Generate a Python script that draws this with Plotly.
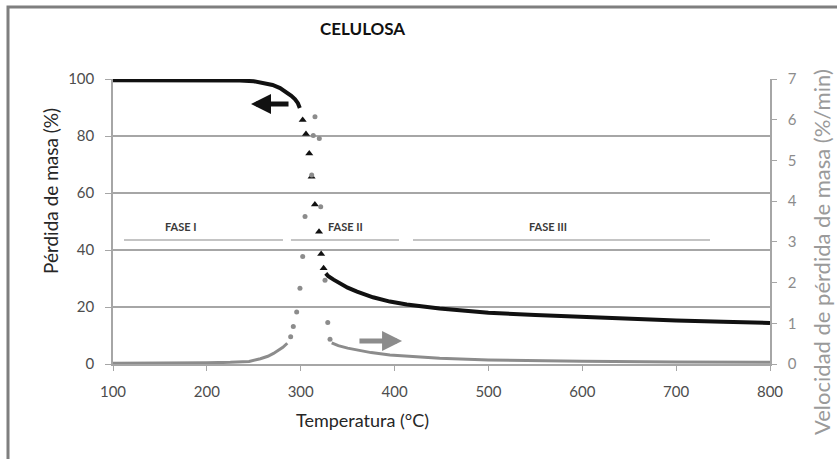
import plotly.graph_objects as go

# Curva TG (pérdida de masa, %) - tramos continuos
tg_temp_inicio = [100, 150, 200, 235, 250, 260, 270, 278, 285, 290, 294, 297, 299]
tg_masa_inicio = [99.6, 99.6, 99.6, 99.5, 99.2, 98.7, 97.9, 96.8, 95.3, 94.1, 92.9, 91.5, 89.8]
tg_temp_final = [326.7, 329.4, 335, 342, 350, 360, 377, 395, 413, 448, 500, 550, 600, 650, 700, 750, 800]
tg_masa_final = [31.8, 30.8, 29.6, 28.3, 26.8, 25.4, 23.4, 21.9, 20.9, 19.5, 18.0, 17.2, 16.5, 15.9, 15.3, 14.8, 14.4]

# Curva TG - puntos discretos en la zona de descomposición
tg_temp_puntos = [302.1, 305.6, 309.1, 311.6, 315.1, 319.5, 321.8, 324.4]
tg_masa_puntos = [85.6, 80.7, 73.9, 65.7, 56.0, 46.4, 38.6, 33.6]

# Curva DTG (velocidad de pérdida de masa, %/min)
dtg_temp_inicio = [100, 150, 200, 225, 235, 240, 245, 257, 265, 271, 276, 281, 285.7]
dtg_vel_inicio = [0.02, 0.02, 0.03, 0.04, 0.05, 0.04, 0.06, 0.13, 0.19, 0.26, 0.33, 0.41, 0.51]
dtg_temp_puntos = [289.3, 292.1, 295.7, 299.2, 302.1, 304.6, 311.7, 313.4, 315.2, 319.8, 321.3, 325.9, 328.8, 331.2]
dtg_vel_puntos = [0.67, 0.92, 1.28, 1.86, 2.64, 3.62, 4.64, 5.61, 6.07, 5.54, 3.86, 2.06, 1.02, 0.61]
dtg_temp_final = [333, 340, 350, 360, 375, 395, 420, 448, 500, 550, 600, 700, 800]
dtg_vel_final = [0.52, 0.45, 0.39, 0.34, 0.28, 0.22, 0.18, 0.14, 0.10, 0.08, 0.07, 0.05, 0.04]

# Fases de la descomposición
fase_nombres = ["FASE I", "FASE II", "FASE III"]
fase_inicio = [111.7, 289.6, 419.6]
fase_fin = [281.1, 404.7, 736.1]
fase_etiqueta_x = [172.5, 348, 563]
fase_linea_y = 43.5
fase_etiqueta_y = 48.3

x_ticks = [100, 200, 300, 400, 500, 600, 700, 800]
y1_ticks = [0, 20, 40, 60, 80, 100]
y2_ticks = [0, 1, 2, 3, 4, 5, 6, 7]

NEGRO = "#111111"
GRIS = "#8c8c8c"
GRIS_EJE = "#a6a6a6"
FUENTE = "Lato"

# Zona de trazado en píxeles: [113, 770] x [79, 364]
L, R, T, B = 113, 770, 79, 364
W, H = 837, 459


def px(xp):
    return (xp - L) / (R - L)


def py(yp):
    return (B - yp) / (B - T)


fig = go.Figure()

# Líneas de las fases
for nombre, x0, x1, xl in zip(fase_nombres, fase_inicio, fase_fin, fase_etiqueta_x):
    fig.add_trace(go.Scatter(x=[x0, x1], y=[fase_linea_y, fase_linea_y], mode="lines",
                             line=dict(color="#b0b0b0", width=1.5), hoverinfo="skip",
                             showlegend=False))
    fig.add_annotation(x=xl, y=fase_etiqueta_y, text=f"<b>{nombre}</b>", showarrow=False,
                       xanchor="center", yanchor="middle",
                       font=dict(family=FUENTE, size=11, color="#3a3a3a"))

# DTG (eje derecho)
fig.add_trace(go.Scatter(x=dtg_temp_inicio, y=dtg_vel_inicio, yaxis="y2", mode="lines",
                         line=dict(color=GRIS, width=3), showlegend=False))
fig.add_trace(go.Scatter(x=dtg_temp_final, y=dtg_vel_final, yaxis="y2", mode="lines",
                         line=dict(color=GRIS, width=3), showlegend=False))
fig.add_trace(go.Scatter(x=dtg_temp_puntos, y=dtg_vel_puntos, yaxis="y2", mode="markers",
                         marker=dict(color=GRIS, size=5, symbol="circle"), showlegend=False))

# TG (eje izquierdo)
fig.add_trace(go.Scatter(x=tg_temp_inicio, y=tg_masa_inicio, mode="lines",
                         line=dict(color=NEGRO, width=4), showlegend=False))
fig.add_trace(go.Scatter(x=tg_temp_final, y=tg_masa_final, mode="lines",
                         line=dict(color=NEGRO, width=4), showlegend=False))
fig.add_trace(go.Scatter(x=tg_temp_puntos, y=tg_masa_puntos, mode="markers",
                         marker=dict(color=NEGRO, size=7, symbol="triangle-up"), showlegend=False))

# Flechas que indican el eje de cada curva
fig.add_annotation(x=247, y=91.2, ax=288.6, ay=91.2, xref="x", yref="y", axref="x", ayref="y",
                   text="", showarrow=True, arrowhead=2, arrowsize=0.8, arrowwidth=5,
                   arrowcolor=NEGRO)
fig.add_annotation(x=408, y=8.1, ax=361, ay=8.1, xref="x", yref="y", axref="x", ayref="y",
                   text="", showarrow=True, arrowhead=2, arrowsize=0.8, arrowwidth=5,
                   arrowcolor=GRIS)

# Títulos
fig.add_annotation(x=px(362), y=py(28), xref="paper", yref="paper", text="<b>CELULOSA</b>",
                   xanchor="center", yanchor="middle", showarrow=False,
                   font=dict(family=FUENTE, size=17, color="#111111"))
fig.add_annotation(x=px(362), y=py(420), xref="paper", yref="paper", text="Temperatura (°C)",
                   xanchor="center", yanchor="middle", showarrow=False,
                   font=dict(family=FUENTE, size=18, color="#262626"))
fig.add_annotation(x=px(50), y=py(191), xref="paper", yref="paper", text="Pérdida de masa (%)",
                   xanchor="center", yanchor="middle", textangle=-90, showarrow=False,
                   font=dict(family=FUENTE, size=19, color="#262626"))
fig.add_annotation(x=px(821), y=py(67), xref="paper", yref="paper", xanchor="center",
                   yanchor="top", text="Velocidad de pérdida de masa (%/min)", textangle=-90,
                   showarrow=False, font=dict(family=FUENTE, size=22, color="#9a9a9a"))

# Marco exterior
fig.add_shape(type="rect", xref="paper", yref="paper", x0=px(8), x1=px(860), y0=py(480), y1=py(7),
              line=dict(color="#7f7f7f", width=3), fillcolor="rgba(0,0,0,0)", layer="below")

fig.update_layout(
    width=W, height=H,
    margin=dict(l=L, r=W - R, t=T, b=H - B),
    paper_bgcolor="white", plot_bgcolor="white",
    font=dict(family=FUENTE),
    xaxis=dict(range=[100, 800], tickvals=x_ticks, showgrid=False, zeroline=False,
               showline=True, linecolor=GRIS_EJE, linewidth=1.5, ticks="outside", ticklen=5,
               tickcolor=GRIS_EJE, tickfont=dict(size=15, color="#4d4d4d"),
               ticklabelstandoff=8),
    yaxis=dict(range=[0, 100], tickvals=y1_ticks, showgrid=True, gridcolor=GRIS_EJE,
               gridwidth=1.5, zeroline=False, showline=True, linecolor=GRIS_EJE, linewidth=1.5,
               ticks="outside", ticklen=6, tickcolor=GRIS_EJE,
               tickfont=dict(size=15, color="#4d4d4d"), ticklabelstandoff=8),
    yaxis2=dict(range=[0, 7], tickvals=y2_ticks, overlaying="y", side="right", showgrid=False,
                zeroline=False, showline=True, linecolor=GRIS_EJE, linewidth=1.5,
                ticks="outside", ticklen=5, tickcolor=GRIS_EJE,
                tickfont=dict(size=15, color="#8c8c8c"), ticklabelstandoff=8),
)

fig.write_html("out.html")
